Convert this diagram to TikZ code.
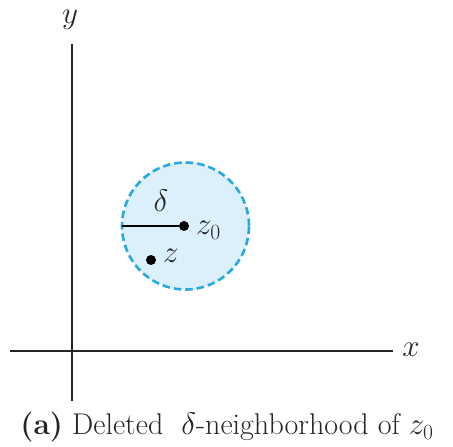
\documentclass[tikz,border=0pt]{standalone}
\usepackage{graphicx}
\usepackage{amsmath}
\definecolor{diskfill}{RGB}{219,240,250}
\definecolor{diskedge}{RGB}{38,168,225}
\newcommand{\myBigMath}[1]{\scalebox{1.25}{\fontsize{24}{28}\selectfont$#1$}}
\begin{document}
\begin{tikzpicture}[x=1pt,y=-1pt,
  axis/.style={line width=1.5pt,black!85},
  lbl/.style={inner sep=0pt,text=black!85},
  dotn/.style={circle,fill=black,inner sep=0pt,minimum size=10pt}]
\useasboundingbox (0,0) rectangle (453,447);
\coordinate (ytop) at (72,44);
\coordinate (ybot) at (72,401);
\coordinate (xl) at (10,351);
\coordinate (xr) at (393,351);
\draw[axis] (ytop) -- (ybot);
\draw[axis] (xl) -- (xr);
\node[lbl] (ylab) at (70,20) {\myBigMath{y}};
\node[lbl] (xlab) at (411,350) {\myBigMath{x}};
\node[circle,minimum size=127pt,inner sep=0pt,fill=diskfill,draw=diskedge,line width=2.6pt,dash pattern=on 7.5pt off 4pt] (disk) at (185.5,226) {};
\node[dotn] (z0) at (184,226) {};
\coordinate (edge) at (122,226);
\draw[line width=1.2pt] (edge) -- (z0);
\node[lbl] (delta) at (161,201) {\myBigMath{\delta}};
\node[lbl,anchor=west] (z0lab) at (196,230) {\myBigMath{z_0}};
\node[dotn] (z) at (151,260) {};
\node[lbl,anchor=west] (zlab) at (163,256) {\myBigMath{z}};
\node[font=\fontsize{30}{36}\selectfont,inner sep=0pt,text=black!85] (cap) at (227,427) {\textbf{(a)} Deleted\ \ \myBigMath{\delta}-neighborhood of \myBigMath{z_0}};
\end{tikzpicture}
\end{document}
